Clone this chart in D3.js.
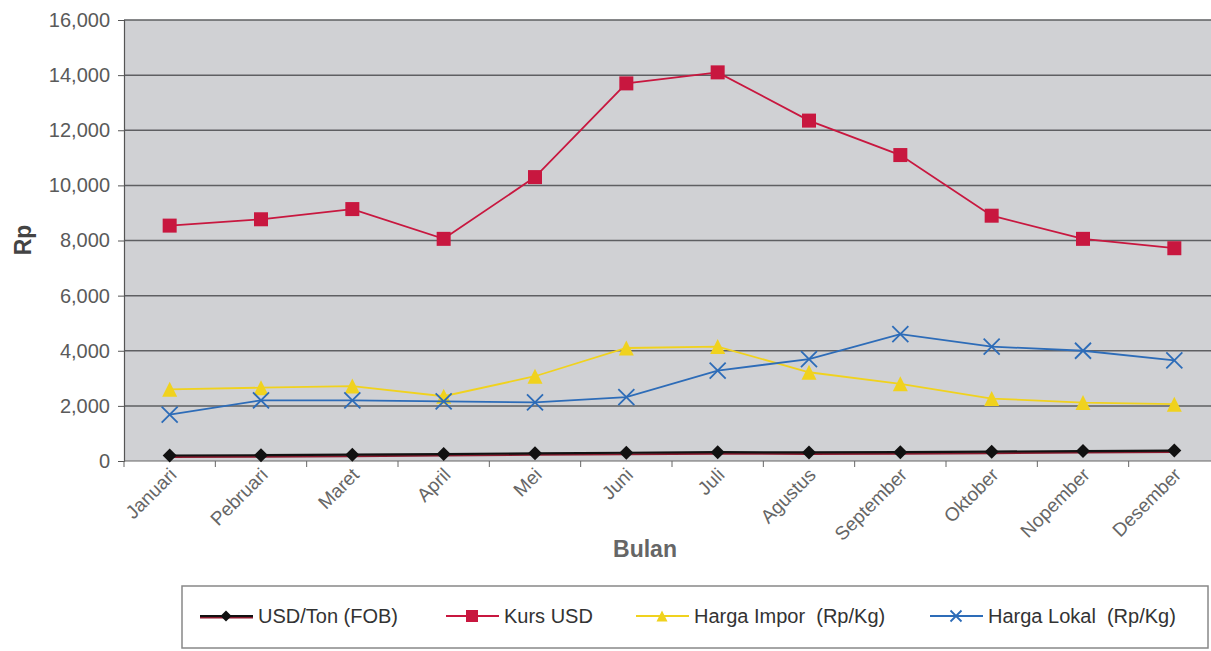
<!DOCTYPE html>
<html>
<head>
<meta charset="utf-8">
<script src="https://cdn.jsdelivr.net/npm/d3@7"></script>
<style>
  body { margin: 0; background: #fff; }
  svg { display: block; font-family: Arial, "Liberation Sans", sans-serif; }
  text { white-space: pre; }
</style>
</head>
<body>
<div class="chart"></div>
<script>
const months = ["Januari", "Pebruari", "Maret", "April", "Mei", "Juni", "Juli",
  "Agustus", "September", "Oktober", "Nopember", "Desember"];
const usdTon = [200, 210, 230, 250, 280, 300, 320, 310, 320, 340, 360, 380];
const kursUsd = [8540, 8770, 9140, 8060, 10300, 13700, 14100, 12350, 11100, 8900, 8060, 7720];
const hargaImpor = [2600, 2660, 2720, 2350, 3075, 4100, 4150, 3220, 2800, 2265, 2120, 2060];
const hargaLokal = [1680, 2200, 2200, 2160, 2130, 2320, 3280, 3700, 4600, 4150, 4000, 3650];
const yTicks = [0, 2000, 4000, 6000, 8000, 10000, 12000, 14000, 16000];

const series = [
  { name: "USD/Ton (FOB)", values: usdTon, color: "#111", marker: "diamond" },
  { name: "Kurs USD", values: kursUsd, color: "#c8173f", marker: "square" },
  { name: "Harga Impor  (Rp/Kg)", values: hargaImpor, color: "#f0d21e", marker: "triangle" },
  { name: "Harga Lokal  (Rp/Kg)", values: hargaLokal, color: "#2d6cb8", marker: "cross" },
];

const svgWidth = 1211;
const svgHeight = 651;
const svg = d3.select(".chart").append("svg")
  .attr("width", svgWidth).attr("height", svgHeight);

const plot = { left: 124, top: 20, right: 1220, bottom: 461 };

const xScale = d3.scaleBand().domain(months).range([plot.left, plot.right]);
const xPos = (i) => xScale(months[i]) + xScale.bandwidth() / 2;
const yScale = d3.scaleLinear().domain([0, 16000]).range([plot.bottom, plot.top]);

// plot background
svg.append("rect")
  .attr("x", plot.left).attr("y", plot.top)
  .attr("width", plot.right - plot.left).attr("height", plot.bottom - plot.top)
  .attr("fill", "#d0d1d4");

// gridlines
svg.append("g")
  .selectAll("line")
  .data(yTicks.filter((t) => t > 0))
  .enter().append("line")
  .attr("x1", plot.left).attr("x2", plot.right)
  .attr("y1", (d) => yScale(d)).attr("y2", (d) => yScale(d))
  .attr("stroke", "#5e5f62").attr("stroke-width", 1.5);

// y axis
const yAxisG = svg.append("g")
  .attr("transform", `translate(${plot.left}, 0)`)
  .call(d3.axisLeft(yScale).tickValues(yTicks).tickFormat(d3.format(",")).tickSize(6).tickPadding(8));
yAxisG.select(".domain").attr("stroke", "#555").attr("stroke-width", 1.2);
yAxisG.selectAll(".tick line").attr("stroke", "#555");
yAxisG.selectAll("text").attr("font-size", 20).attr("fill", "#5a5a5a")
  .attr("font-family", "Arial, 'Liberation Sans', sans-serif");

svg.append("text")
  .attr("transform", "translate(31, 240) rotate(-90)")
  .attr("text-anchor", "middle")
  .attr("font-size", 23).attr("font-weight", "bold").attr("fill", "#444")
  .text("Rp");

// x axis
const xAxisG = svg.append("g")
  .attr("transform", `translate(0, ${plot.bottom})`);
xAxisG.append("line")
  .attr("x1", plot.left).attr("x2", plot.right)
  .attr("stroke", "#666").attr("stroke-width", 1.2);
xAxisG.selectAll(".xtick")
  .data(months)
  .enter().append("line")
  .attr("class", "xtick")
  .attr("x1", (d) => xScale(d)).attr("x2", (d) => xScale(d))
  .attr("y1", 0).attr("y2", 6)
  .attr("stroke", "#666");
xAxisG.selectAll(".xlabel")
  .data(months)
  .enter().append("text")
  .attr("class", "xlabel")
  .attr("text-anchor", "end")
  .attr("font-size", 19).attr("fill", "#666")
  .attr("transform", (d, i) => `translate(${xPos(i) + 8}, 15) rotate(-45)`)
  .text((d) => d);

svg.append("text")
  .attr("x", 645).attr("y", 557)
  .attr("text-anchor", "middle")
  .attr("font-size", 23).attr("font-weight", "bold").attr("fill", "#666")
  .text("Bulan");

// markers
const drawMarker = (g, type, color, x, y, s) => {
  if (type === "square") {
    g.append("rect").attr("x", x - s / 2).attr("y", y - s / 2)
      .attr("width", s).attr("height", s).attr("fill", color);
  } else if (type === "diamond") {
    g.append("path")
      .attr("d", `M${x},${y - s / 2}L${x + s / 2},${y}L${x},${y + s / 2}L${x - s / 2},${y}Z`)
      .attr("fill", color);
  } else if (type === "triangle") {
    g.append("path")
      .attr("d", `M${x},${y - s / 2}L${x + s / 2},${y + s / 2}L${x - s / 2},${y + s / 2}Z`)
      .attr("fill", color);
  } else {
    g.append("path")
      .attr("d", `M${x - s / 2},${y - s / 2}L${x + s / 2},${y + s / 2}M${x + s / 2},${y - s / 2}L${x - s / 2},${y + s / 2}`)
      .attr("stroke", color).attr("stroke-width", 1.8).attr("fill", "none");
  }
};

const markerSize = { square: 14, diamond: 14, triangle: 15, cross: 16 };

const lineGen = (vals) => d3.line()
  .x((d, i) => xPos(i))
  .y((d) => yScale(d))(vals);

series.forEach((s) => {
  const g = svg.append("g");
  if (s.marker === "diamond") {
    g.append("path").attr("d", lineGen(s.values))
      .attr("transform", "translate(0, 1.5)")
      .attr("fill", "none").attr("stroke", "#8a1a2e").attr("stroke-width", 2);
  }
  g.append("path").attr("d", lineGen(s.values))
    .attr("fill", "none").attr("stroke", s.color)
    .attr("stroke-width", s.marker === "diamond" ? 2.2 : 1.8);
  s.values.forEach((v, i) => drawMarker(g, s.marker, s.color, xPos(i), yScale(v), markerSize[s.marker]));
});

// legend
const legend = svg.append("g");
legend.append("rect")
  .attr("x", 182).attr("y", 586).attr("width", 1026).attr("height", 62)
  .attr("fill", "#fff").attr("stroke", "#888").attr("stroke-width", 1.5);
const legendX = [200, 446, 636, 930];
series.forEach((s, i) => {
  const x0 = legendX[i];
  const y0 = 616;
  const g = legend.append("g");
  if (s.marker === "diamond") {
    g.append("line").attr("x1", x0).attr("x2", x0 + 53).attr("y1", y0 + 1.5).attr("y2", y0 + 1.5)
      .attr("stroke", "#8a1a2e").attr("stroke-width", 2);
  }
  g.append("line").attr("x1", x0).attr("x2", x0 + 53).attr("y1", y0).attr("y2", y0)
    .attr("stroke", s.color).attr("stroke-width", 1.8);
  drawMarker(g, s.marker, s.color, x0 + 26, y0, s.marker === "square" ? 12 : 11);
  g.append("text")
    .attr("x", x0 + 58).attr("y", y0 + 7)
    .attr("font-size", 20).attr("fill", "#333")
    .text(s.name);
});
</script>
</body>
</html>
